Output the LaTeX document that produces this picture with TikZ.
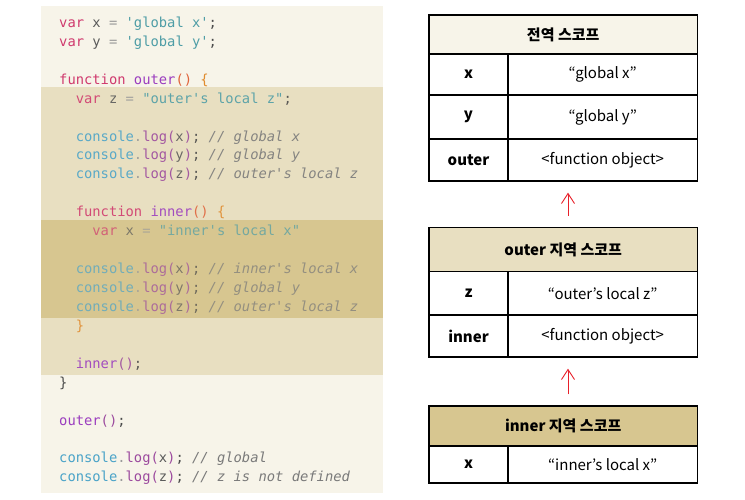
\documentclass[tikz,border=0pt]{standalone}
\usepackage{fontspec}
\setmainfont{Noto Sans CJK KR}
\setmonofont{DejaVu Sans Mono}
\usetikzlibrary{arrows.meta}
\definecolor{paper}{HTML}{F7F4E9}
\definecolor{bandA}{HTML}{E8DFC1}
\definecolor{bandB}{HTML}{D7C690}
\definecolor{kwc}{HTML}{D03A6E}
\definecolor{idc}{HTML}{5A5A5A}
\definecolor{opc}{HTML}{9A9A9A}
\definecolor{strc}{HTML}{4E9DA6}
\definecolor{puc}{HTML}{4A4A4A}
\definecolor{fnc}{HTML}{9B3DBF}
\definecolor{parc}{HTML}{E0643C}
\definecolor{brc}{HTML}{E08B2E}
\definecolor{conc}{HTML}{4AA3C8}
\definecolor{lgc}{HTML}{9C4A9E}
\definecolor{comc}{HTML}{7A7A7A}
\definecolor{arrc}{HTML}{E8202A}
\newcommand\zk[1]{\textcolor{kwc}{#1}}
\newcommand\zi[1]{\textcolor{idc}{#1}}
\newcommand\zo[1]{\textcolor{opc}{#1}}
\newcommand\zs[1]{\textcolor{strc}{#1}}
\newcommand\zp[1]{\textcolor{puc}{#1}}
\newcommand\zf[1]{\textcolor{fnc}{#1}}
\newcommand\zr[1]{\textcolor{parc}{#1}}
\newcommand\zb[1]{\textcolor{brc}{#1}}
\newcommand\zc[1]{\textcolor{conc}{#1}}
\newcommand\zd[1]{\textcolor{opc}{#1}}
\newcommand\zl[1]{\textcolor{lgc}{#1}}
\newcommand\zm[1]{\textcolor{comc}{\itshape #1}}
\newcommand\zlog[2]{\zc{console}\zd{.}\zl{log(}\zi{#1}\zl{)}\zp{;} \zm{// #2}}
\tikzset{
  code/.style={anchor=base west, inner sep=0pt, font=\ttfamily\fontsize{13.8}{16}\selectfont},
  codeA/.style={code, text opacity=0.9},
  codeB/.style={code, text opacity=0.72},
  cell/.style={draw=black, line width=1.4pt, anchor=north west, inner sep=0pt,
    font=\fontsize{15}{18}\selectfont, fill=white},
  keycell/.style={cell, minimum width=79pt, font=\bfseries\fontsize{15}{18}\selectfont},
  valcell/.style={cell, minimum width=189.4pt},
  headcell/.style={cell, minimum width=268.4pt, font=\bfseries\fontsize{15}{18}\selectfont},
  scopearrow/.style={draw=arrc, line width=0.9pt, -{Straight Barb[length=10pt,width=13pt]},
    shorten <=11pt, shorten >=11pt}
}
\begin{document}
\begin{tikzpicture}[x=1pt,y=-1pt]
\useasboundingbox (0,0) rectangle (745,500);
\fill[white] (0,0) rectangle (745,500);
% code panel and highlight bands
\fill[paper] (41,6) rectangle (383.3,492.7);
\fill[bandA] (41,87.3) rectangle (383.3,375);
\fill[bandB] (41,220) rectangle (383.3,317.7);
% code lines
\node[code]  (l0)  at (59,27.5)  {\zk{var} \zi{x} \zo{=} \zs{'global x'}\zp{;}};
\node[code]  (l1)  at (59,46.4)  {\zk{var} \zi{y} \zo{=} \zs{'global y'}\zp{;}};
\node[code]  (l3)  at (59,84.3)  {\zk{function} \zf{outer}\zr{()} \zb{\{}};
\node[codeA] (l4)  at (75.6,103.2) {\zk{var} \zi{z} \zo{=} \zs{"outer's local z"}\zp{;}};
\node[codeA] (l6)  at (75.6,141.1) {\zlog{x}{global x}};
\node[codeA] (l7)  at (75.6,160.0) {\zlog{y}{global y}};
\node[codeA] (l8)  at (75.6,178.9) {\zlog{z}{outer's local z}};
\node[codeA] (l10) at (75.6,216.8) {\zk{function} \zf{inner}\zr{()} \zb{\{}};
\node[codeB] (l11) at (92.2,235.7) {\zk{var} \zi{x} \zo{=} \zs{"inner's local x"}};
\node[codeB] (l13) at (75.6,273.6) {\zlog{x}{inner's local x}};
\node[codeB] (l14) at (75.6,292.5) {\zlog{y}{global y}};
\node[codeB] (l15) at (75.6,311.5) {\zlog{z}{outer's local z}};
\node[codeA] (l16) at (75.6,330.4) {\zb{\}}};
\node[codeA] (l18) at (75.6,368.2) {\zf{inner}\zl{()}\zp{;}};
\node[code]  (l19) at (59,387.1) {\zp{\}}};
\node[code]  (l21) at (59,425.0) {\zf{outer}\zl{()}\zp{;}};
\node[code]  (l23) at (59,462.9) {\zlog{x}{global}};
\node[code]  (l24) at (59,481.8) {\zlog{z}{z is not defined}};
% global scope table
\node[headcell, fill=paper, minimum height=39pt] (gh) at (428.3,14.3) {전역 스코프};
\node[keycell, minimum height=41pt] (gxk) at (428.3,53.3) {x};
\node[valcell, minimum height=41pt] (gxv) at (507.3,53.3) {“global x”};
\node[keycell, minimum height=44pt] (gyk) at (428.3,94.3) {y};
\node[valcell, minimum height=44pt] (gyv) at (507.3,94.3) {“global y”};
\node[keycell, minimum height=42pt] (gok) at (428.3,138.3) {outer};
\node[valcell, minimum height=42pt] (gov) at (507.3,138.3) {<function object>};
% outer scope table
\node[headcell, fill=bandA, minimum height=44pt] (oh) at (428.3,226.7) {outer 지역 스코프};
\node[keycell, minimum height=43.6pt] (ozk) at (428.3,270.7) {z};
\node[valcell, minimum height=43.6pt] (ozv) at (507.3,270.7) {“outer’s local z”};
\node[keycell, minimum height=42pt] (oik) at (428.3,314.3) {inner};
\node[valcell, minimum height=42pt] (oiv) at (507.3,314.3) {<function object>};
% inner scope table
\node[headcell, fill=bandB, minimum height=40pt] (ih) at (428.3,405.3) {inner 지역 스코프};
\node[keycell, minimum height=37pt] (ixk) at (428.3,445.3) {x};
\node[valcell, minimum height=37pt] (ixv) at (507.3,445.3) {“inner’s local x”};
% scope chain arrows
\draw[scopearrow] ([xshift=4.8pt]oh.north) -- ([xshift=4.8pt]oh.north |- gov.south);
\draw[scopearrow] ([xshift=4.8pt]ih.north) -- ([xshift=4.8pt]ih.north |- oiv.south);
\end{tikzpicture}
\end{document}
